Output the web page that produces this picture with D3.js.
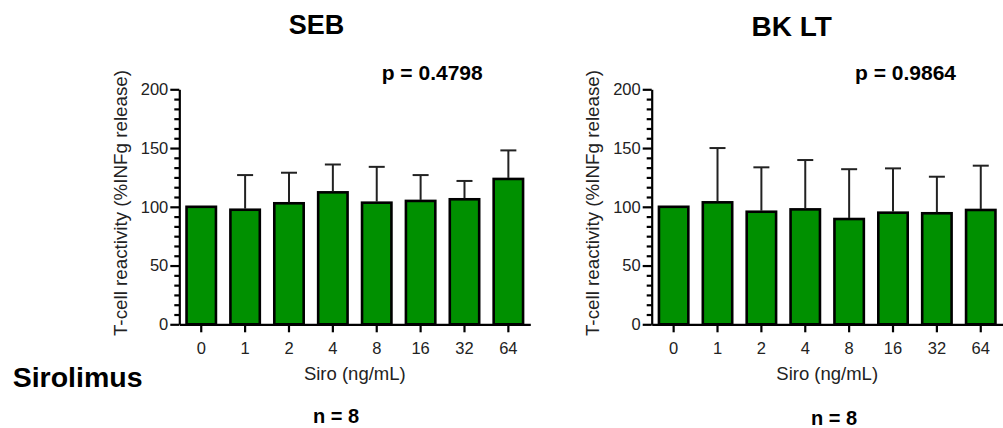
<html>
<head>
<script src="https://d3js.org/d3.v7.min.js"></script>
<style>
body { margin:0; background:#fff; }
text { font-family: Arial, "Liberation Sans", sans-serif; }
</style>
</head>
<body>
<script>
var width = 1003, height = 428;

// data
var doses = ["0", "1", "2", "4", "8", "16", "32", "64"];
var sebMean = [100, 97.5, 103, 112.3, 103.5, 105, 106.4, 123.7];
var sebSd   = [0, 29.5, 26, 23.7, 30.5, 22, 15.6, 24.3];
var bkMean  = [100, 103.8, 95.8, 97.8, 89.6, 95, 94.5, 97.3];
var bkSd    = [0, 46.2, 37.8, 42, 42.4, 37.7, 31.1, 37.7];
var yMajor  = [0, 50, 100, 150, 200];

var svg = d3.select("body").append("svg")
    .attr("width", width)
    .attr("height", height);

var y = d3.scaleLinear().domain([0, 200]).range([324.3, 89.3]);
var green = "#009000";

function panel(x0, means, sds, title, titleX, titleY, titleSize, pText, pX, nX, nY) {
  var x = d3.scaleBand()
      .domain(doses)
      .range([x0, x0 + 351])
      .paddingInner(0.33)
      .paddingOuter(0.165);
  var g = svg.append("g");

  // bars
  g.selectAll("rect.bar")
    .data(means)
    .enter().append("rect")
      .attr("class", "bar")
      .attr("x", function(d, i) { return x(doses[i]); })
      .attr("y", function(d) { return y(d); })
      .attr("width", x.bandwidth())
      .attr("height", function(d) { return y(0) - y(d); })
      .attr("fill", green)
      .attr("stroke", "#000")
      .attr("stroke-width", 2.6);

  // error bars (upper only)
  var eb = g.selectAll("g.err")
    .data(means.map(function(m, i) { return {m: m, s: sds[i], k: doses[i]}; })
                .filter(function(d) { return d.s > 0; }))
    .enter().append("g").attr("class", "err")
      .attr("stroke", "#222")
      .attr("stroke-width", 2);
  eb.append("line")
    .attr("x1", function(d) { return x(d.k) + x.bandwidth() / 2; })
    .attr("x2", function(d) { return x(d.k) + x.bandwidth() / 2; })
    .attr("y1", function(d) { return y(d.m) - 1; })
    .attr("y2", function(d) { return y(d.m + d.s); });
  eb.append("line")
    .attr("x1", function(d) { return x(d.k) + x.bandwidth() / 2 - 8; })
    .attr("x2", function(d) { return x(d.k) + x.bandwidth() / 2 + 8; })
    .attr("y1", function(d) { return y(d.m + d.s); })
    .attr("y2", function(d) { return y(d.m + d.s); });

  // minor y ticks
  var minor = d3.range(0, 200.01, 50 / 6).filter(function(v) { return Math.abs(v % 50) > 0.5 && Math.abs(v % 50 - 50) > 0.5; });
  g.append("g")
    .attr("transform", "translate(" + x0 + ",0)")
    .call(d3.axisLeft(y).tickValues(minor).tickSize(5).tickFormat(""))
    .call(function(a) { a.select(".domain").remove(); })
    .selectAll("line").attr("stroke", "#000").attr("stroke-width", 2.2);

  // y axis
  var ya = g.append("g")
    .attr("transform", "translate(" + x0 + ",0)")
    .call(d3.axisLeft(y).tickValues(yMajor).tickSize(9).tickSizeOuter(0).tickPadding(2));
  ya.selectAll("line, path").attr("stroke", "#000").attr("stroke-width", 2.2);
  ya.selectAll("text").attr("font-size", 16.5).attr("fill", "#222")
    .style("font-family", "Arial, 'Liberation Sans', sans-serif");

  // x axis
  var xa = g.append("g")
    .attr("transform", "translate(0," + y(0) + ")")
    .call(d3.axisBottom(x).tickSize(8).tickSizeOuter(0).tickPadding(10));
  xa.selectAll("line, path").attr("stroke", "#000").attr("stroke-width", 2.2);
  xa.selectAll("text").attr("font-size", 16.5).attr("fill", "#222")
    .style("font-family", "Arial, 'Liberation Sans', sans-serif");

  // axis titles
  g.append("text")
    .attr("transform", "translate(" + (x0 - 52.5) + ",203) rotate(-90)")
    .attr("text-anchor", "middle")
    .attr("font-size", 18.8)
    .attr("fill", "#222")
    .text("T-cell reactivity (%INFg release)");
  g.append("text")
    .attr("x", x0 + 175.5)
    .attr("y", 379.5)
    .attr("text-anchor", "middle")
    .attr("font-size", 18.5)
    .attr("fill", "#222")
    .text("Siro (ng/mL)");

  // titles
  g.append("text")
    .attr("x", titleX).attr("y", titleY)
    .attr("text-anchor", "middle")
    .attr("font-size", titleSize)
    .attr("font-weight", "bold")
    .text(title);
  g.append("text")
    .attr("x", pX).attr("y", 80)
    .attr("font-size", 21)
    .attr("font-weight", "bold")
    .text(pText);
  g.append("text")
    .attr("x", nX).attr("y", nY)
    .attr("text-anchor", "middle")
    .attr("font-size", 20)
    .attr("font-weight", "bold")
    .text("n = 8");
}

panel(179.3, sebMean, sebSd, "SEB", 316.5, 33.5, 27, "p = 0.4798", 381.7, 336, 423);
panel(651.7, bkMean, bkSd, "BK LT", 791.7, 36, 28, "p = 0.9864", 855, 834, 424.5);

svg.append("text")
  .attr("x", 12.7).attr("y", 386.7)
  .attr("font-size", 28.5)
  .attr("font-weight", "bold")
  .text("Sirolimus");
</script>
</body>
</html>
